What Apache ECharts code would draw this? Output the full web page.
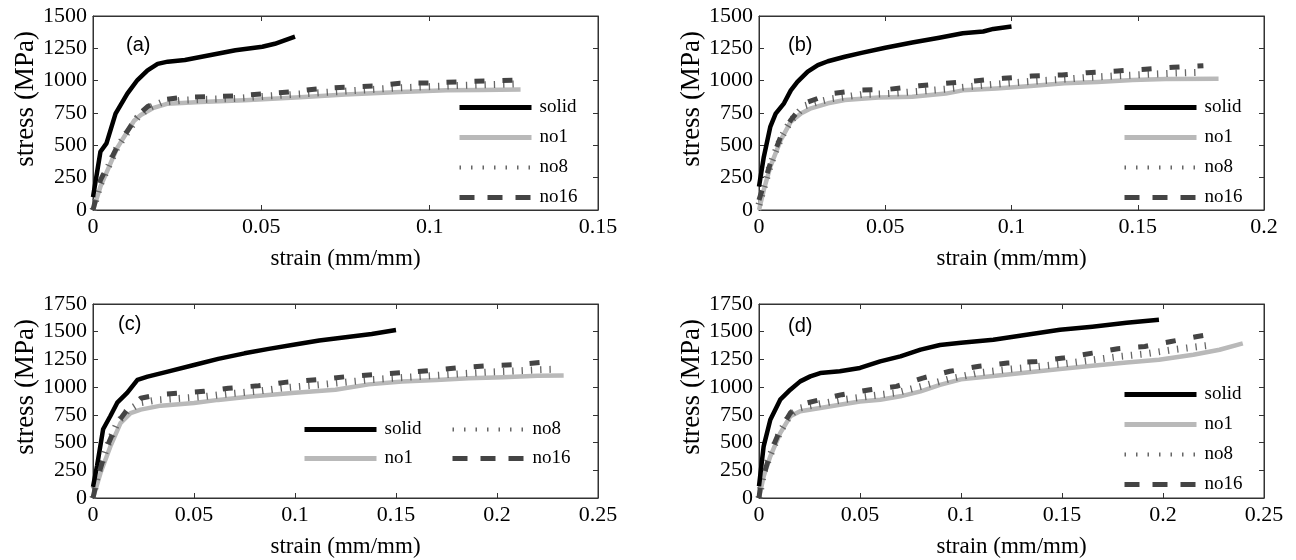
<!DOCTYPE html>
<html>
<head>
<meta charset="utf-8">
<script src="https://cdn.jsdelivr.net/npm/echarts@6/dist/echarts.min.js"></script>
<style>html,body{margin:0;padding:0;background:#fff}#c{width:1296px;height:560px}</style>
</head>
<body>
<div id="c"></div>
<script>
// ---- data: [strain (mm/mm), stress (MPa)] ----
const seriesNames = ['solid', 'no1', 'no8', 'no16'];
const panelLabels = ['(a)', '(b)', '(c)', '(d)'];
const xMaxes = [0.15, 0.2, 0.25, 0.25];
const yMaxes = [1500, 1500, 1750, 1750];
const xTickStep = 0.05;
const yTickStep = 250;

const a_solid = [[0,100],[0.0022,450],[0.004,515],[0.0067,745],[0.0102,900],[0.0132,1005],[0.0162,1080],[0.0192,1130],[0.0222,1147],[0.0273,1160],[0.0323,1185],[0.0423,1235],[0.0503,1262],[0.054,1285],[0.06,1340]];
const a_no1 = [[0,0],[0.0022,180],[0.0072,480],[0.0122,690],[0.0142,735],[0.018,790],[0.0222,822],[0.032,835],[0.045,848],[0.0615,872],[0.075,893],[0.0912,912],[0.105,925],[0.115,928],[0.127,932]];
const a_no8 = [[0,0],[0.0022,200],[0.0072,485],[0.0132,715],[0.0162,785],[0.0202,830],[0.0263,848],[0.0333,855],[0.0423,862],[0.0513,880],[0.0593,893],[0.0754,920],[0.0912,945],[0.108,962],[0.126,975]];
const a_no16 = [[0,0],[0.0022,230],[0.0072,490],[0.0132,730],[0.0162,800],[0.0202,850],[0.0263,870],[0.0333,876],[0.0423,882],[0.0513,900],[0.0593,915],[0.0665,936],[0.0754,950],[0.0838,960],[0.0912,980],[0.0995,982],[0.108,990],[0.117,998],[0.126,1005]];

const b_solid = [[0,180],[0.0019,410],[0.0045,645],[0.0066,745],[0.0099,825],[0.0126,925],[0.0152,990],[0.0193,1070],[0.0233,1120],[0.0273,1150],[0.034,1185],[0.0406,1215],[0.05,1255],[0.0607,1295],[0.0714,1332],[0.0807,1366],[0.0888,1380],[0.0928,1400],[0.1,1418]];
const b_no1 = [[0,0],[0.0019,155],[0.0045,335],[0.0086,540],[0.0126,683],[0.0166,747],[0.0206,786],[0.0273,825],[0.034,850],[0.0473,870],[0.0607,876],[0.074,900],[0.0807,925],[0.094,940],[0.1076,958],[0.121,980],[0.134,990],[0.148,1005],[0.161,1013],[0.182,1015]];
const b_no8 = [[0,40],[0.0045,348],[0.0086,555],[0.0126,690],[0.018,805],[0.0233,835],[0.0286,860],[0.0406,892],[0.0513,900],[0.0634,918],[0.074,935],[0.0854,958],[0.0968,978],[0.108,995],[0.12,1010],[0.13,1025],[0.142,1038],[0.153,1048],[0.164,1058],[0.176,1066]];
const b_no16 = [[0,77],[0.0045,361],[0.0086,567],[0.0126,696],[0.018,825],[0.0233,863],[0.0286,900],[0.0406,928],[0.0513,933],[0.0634,960],[0.074,979],[0.0854,998],[0.0968,1018],[0.108,1036],[0.12,1044],[0.13,1062],[0.142,1075],[0.153,1088],[0.164,1103],[0.176,1116]];

const c_solid = [[0,100],[0.002,290],[0.005,620],[0.0086,740],[0.012,860],[0.017,950],[0.022,1065],[0.027,1095],[0.037,1140],[0.05,1200],[0.062,1255],[0.075,1305],[0.087,1345],[0.1,1385],[0.112,1420],[0.125,1450],[0.138,1480],[0.15,1515]];
const c_no1 = [[0,0],[0.0037,225],[0.0086,465],[0.0136,675],[0.0186,765],[0.0236,797],[0.0336,833],[0.05,857],[0.062,885],[0.078,915],[0.1,950],[0.12,976],[0.1365,1025],[0.153,1050],[0.17,1065],[0.186,1080],[0.203,1090],[0.22,1102],[0.233,1106]];
const c_no8 = [[0,0],[0.002,190],[0.007,466],[0.012,676],[0.017,785],[0.0236,860],[0.032,885],[0.0435,900],[0.055,915],[0.067,940],[0.082,965],[0.095,995],[0.111,1020],[0.125,1045],[0.138,1068],[0.152,1085],[0.1666,1102],[0.181,1120],[0.195,1135],[0.208,1145],[0.222,1158],[0.23,1162]];
const c_no16 = [[0,0],[0.002,165],[0.007,466],[0.012,676],[0.017,797],[0.0236,900],[0.032,932],[0.0435,947],[0.055,962],[0.067,990],[0.082,1013],[0.095,1043],[0.111,1067],[0.125,1094],[0.138,1112],[0.152,1130],[0.1666,1150],[0.181,1175],[0.195,1193],[0.208,1202],[0.222,1223]];

const d_solid = [[0,105],[0.0023,466],[0.0056,706],[0.0105,887],[0.0155,977],[0.0204,1052],[0.0254,1097],[0.0303,1127],[0.04,1143],[0.05,1173],[0.06,1233],[0.07,1278],[0.08,1338],[0.0896,1380],[0.1,1400],[0.116,1427],[0.1325,1472],[0.149,1517],[0.165,1545],[0.182,1580],[0.198,1608]];
const d_no1 = [[0,0],[0.0023,195],[0.0056,376],[0.0105,586],[0.0155,737],[0.0204,782],[0.0303,812],[0.04,842],[0.05,870],[0.06,887],[0.07,917],[0.08,962],[0.0896,1020],[0.1,1070],[0.116,1100],[0.1325,1133],[0.149,1163],[0.165,1193],[0.182,1223],[0.198,1247],[0.215,1292],[0.228,1337],[0.2395,1395]];
const d_no8 = [[0,0],[0.0023,230],[0.0056,390],[0.0105,600],[0.0155,752],[0.0204,812],[0.0303,850],[0.041,885],[0.055,920],[0.068,950],[0.081,1010],[0.0945,1075],[0.109,1130],[0.123,1160],[0.1376,1185],[0.1505,1210],[0.165,1245],[0.1776,1275],[0.191,1300],[0.204,1335],[0.217,1365],[0.224,1380]];
const d_no16 = [[0,0],[0.0007,105],[0.0056,406],[0.0105,616],[0.0155,767],[0.0204,842],[0.0303,887],[0.041,932],[0.055,977],[0.068,1007],[0.081,1082],[0.0945,1143],[0.109,1188],[0.123,1217],[0.1376,1232],[0.1505,1262],[0.165,1307],[0.1776,1346],[0.191,1367],[0.204,1412],[0.217,1457],[0.222,1472]];

const panelData = [
  [a_solid, a_no1, a_no8, a_no16],
  [b_solid, b_no1, b_no8, b_no16],
  [c_solid, c_no1, c_no8, c_no16],
  [d_solid, d_no1, d_no8, d_no16]
];

// ---- styling / layout ----
const SERIF = 'Liberation Serif';
const SANS = 'Liberation Sans';
const AX = '#333';
const lineStyles = [
  {color: '#000000', width: 4.5, type: 'solid'},
  {color: '#b9b9b9', width: 4.5, type: 'solid'},
  {color: '#666666', width: 7, type: [1.3, 8]},
  {color: '#444444', width: 5, type: [10, 18]}
];
const legendLineStyles = {
  solid: {width: 5},
  no1: {width: 5},
  no8: {width: 4, type: [1.5, 10]},
  no16: {width: 5, type: [15, 13]}
};
const grids = [
  {left: 93, top: 16, width: 505, height: 194},
  {left: 759, top: 16, width: 505, height: 194},
  {left: 93, top: 304, width: 505, height: 194},
  {left: 759, top: 304, width: 505, height: 194}
];
const labelPos = [[126, 35], [788, 35], [118, 314], [788, 316]];

const xAxes = [], yAxes = [], series = [], titles = [];
grids.forEach((g, i) => {
  const common = {type: 'value', gridIndex: i, splitLine: {show: false},
    axisLine: {show: true, onZero: false, lineStyle: {color: AX, width: 1}},
    axisTick: {show: true, inside: true, length: 5, lineStyle: {color: AX}}};
  xAxes.push(Object.assign({}, common, {position: 'bottom', min: 0, max: xMaxes[i], interval: xTickStep,
    axisLabel: {fontFamily: SERIF, fontSize: 22, color: '#000', margin: 6, formatter: v => String(+v.toFixed(4))},
    name: 'strain (mm/mm)', nameLocation: 'middle', nameGap: 37,
    nameTextStyle: {fontFamily: SERIF, fontSize: 23, color: '#000'}}));
  xAxes.push(Object.assign({}, common, {position: 'top', min: 0, max: xMaxes[i], interval: xTickStep,
    axisLabel: {show: false}}));
  yAxes.push(Object.assign({}, common, {position: 'left', min: 0, max: yMaxes[i], interval: yTickStep,
    axisLabel: {fontFamily: SERIF, fontSize: 22, color: '#000', margin: 6, formatter: v => String(v)},
    name: 'stress (MPa)', nameLocation: 'middle', nameGap: 54,
    nameTextStyle: {fontFamily: SERIF, fontSize: 27, color: '#000', padding: [0, 0, 0, 28]}}));
  yAxes.push(Object.assign({}, common, {position: 'right', min: 0, max: yMaxes[i], interval: yTickStep,
    axisLabel: {show: false}}));
  panelData[i].forEach((d, k) => {
    series.push({type: 'line', name: seriesNames[k], xAxisIndex: 2 * i, yAxisIndex: 2 * i,
      data: d, symbol: 'none', smooth: false, animation: false, z: k === 0 ? 5 : 2 + k,
      lineStyle: Object.assign({cap: 'butt', join: 'round'}, lineStyles[k])});
  });
  titles.push({text: panelLabels[i], left: labelPos[i][0], top: labelPos[i][1], padding: 0,
    textStyle: {fontFamily: SANS, fontSize: 20, fontWeight: 'normal', color: '#000'}});
});

const legendItems = names => names.map(n => ({name: n, lineStyle: legendLineStyles[n]}));
const legendBase = {orient: 'vertical', padding: 0, itemWidth: 72, itemHeight: 14, itemGap: 11,
  selectedMode: false,
  itemStyle: {opacity: 0, borderWidth: 0},
  lineStyle: {width: 5},
  textStyle: {fontFamily: SERIF, fontSize: 19, color: '#000', padding: [0, 0, 0, 3]}};
const legends = [
  Object.assign({}, legendBase, {data: legendItems(seriesNames), left: 457, top: 98}),
  Object.assign({}, legendBase, {data: legendItems(seriesNames), left: 1122, top: 98}),
  Object.assign({}, legendBase, {data: legendItems(['solid', 'no1']), left: 302, top: 420, itemGap: 10}),
  Object.assign({}, legendBase, {data: legendItems(['no8', 'no16']), left: 450, top: 420, itemGap: 10}),
  Object.assign({}, legendBase, {data: legendItems(seriesNames), left: 1122, top: 385})
];

const chart = echarts.init(document.getElementById('c'), null, {renderer: 'canvas'});
chart.setOption({
  backgroundColor: '#fff',
  animation: false,
  title: titles,
  grid: grids.map(g => Object.assign({show: true, borderColor: AX, borderWidth: 1, backgroundColor: 'transparent'}, g)),
  xAxis: xAxes,
  yAxis: yAxes,
  legend: legends,
  series: series
});
</script>
</body>
</html>
